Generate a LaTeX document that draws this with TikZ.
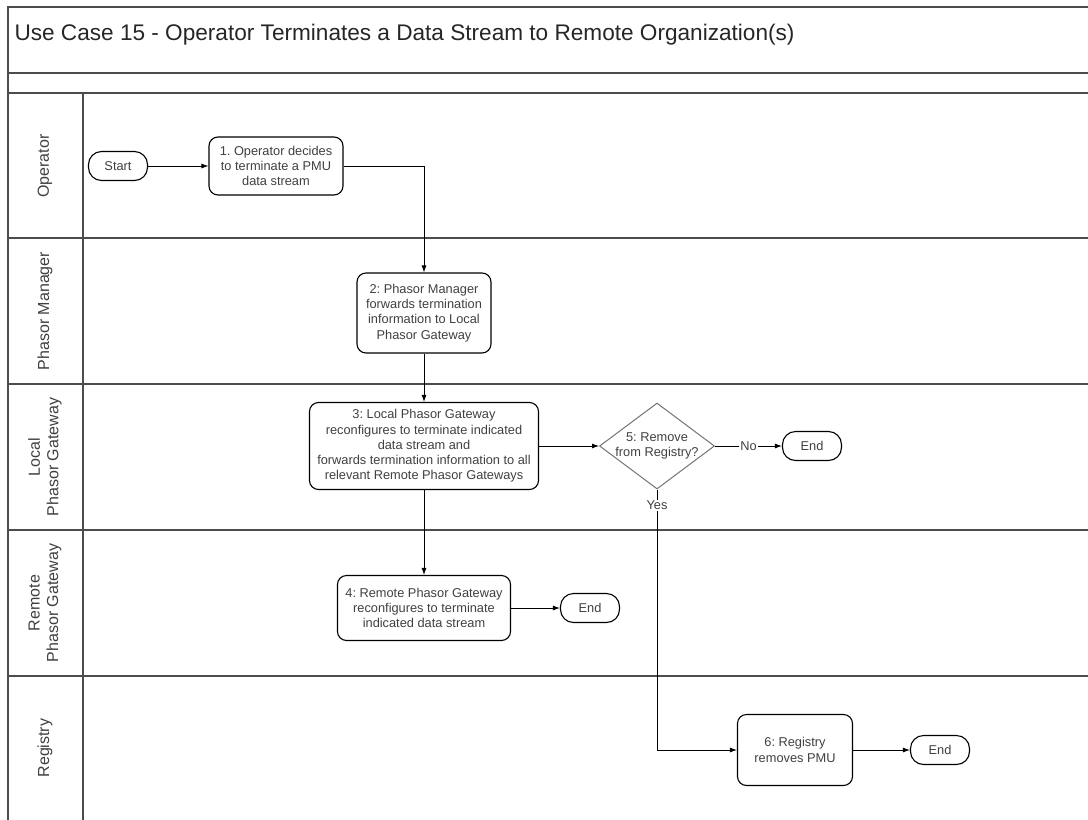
\documentclass[tikz,border=0pt]{standalone}
\usepackage{fontspec}
\setmainfont{Liberation Sans}
\usetikzlibrary{shapes.geometric,arrows.meta}
\frenchspacing

\begin{document}
\begin{tikzpicture}[
    x			= 1pt,
    y			= -1pt,
    lane/.style		= {line width = 1.4pt, black!70},
    lanename/.style	= {rotate = 90, align = center, text = black!75, font = \fontsize{16}{18.5}\selectfont},
    stepbox/.style	= {draw, line width = 1.1pt, rounded corners = 9pt, align = center, inner sep = 1pt, text = black!75, font = \fontsize{12.8}{15.3}\selectfont},
    term/.style		= {draw, line width = 1.1pt, rounded corners = 13pt, minimum width = 59pt, minimum height = 29pt, text = black!75, font = \fontsize{12.8}{15}\selectfont},
    decide/.style	= {draw = black!55, line width = 1pt, diamond, aspect = 1.34, inner sep = -3pt, minimum width = 115pt, minimum height = 86pt, align = center, text = black!75, font = \fontsize{12.8}{15.3}\selectfont},
    flow/.style		= {->, line width = 0.8pt},
    >={Latex[length = 7pt, width = 5pt]}
  ]
\useasboundingbox (0,0) rectangle (1088,820);
% frame and lanes
\draw[lane] (8,820) -- (8,7) -- (1088,7);
\foreach \y in {73,93,238,384,530,676}
  \draw[lane] (8,\y) -- (1088,\y);
\draw[lane] (83,93) -- (83,820);
% title
\node[anchor = west, text = black!85, font = \fontsize{22.6}{26}\selectfont] (title) at (11,35) {Use Case 15 - Operator Terminates a Data Stream to Remote Organization(s)};
% lane names
\node[lanename] (opname) at (45,166) {Operator};
\node[lanename] (pmname) at (45,311) {Phasor Manager};
\node[lanename] (lpgname) at (45,457) {Local\\Phasor Gateway};
\node[lanename] (rpgname) at (45,603) {Remote\\Phasor Gateway};
\node[lanename] (regname) at (45,748) {Registry};
% steps
\node[term] (start) at (118,166) {Start};
\node[stepbox, minimum width = 134pt, minimum height = 58pt] (op) at (276,166) {1. Operator decides\\to terminate a PMU\\data stream};
\node[stepbox, minimum width = 134pt, minimum height = 80pt] (pm) at (424,313) {2: Phasor Manager\\forwards termination\\information to Local\\Phasor Gateway};
\node[stepbox, minimum width = 229pt, minimum height = 87pt] (lpg) at (424,446) {3: Local Phasor Gateway\\reconfigures to terminate indicated\\data stream and\\forwards termination information to all\\relevant Remote Phasor Gateways};
\node[decide] (remove) at (657,446) {5: Remove\\from Registry?};
\node[term] (endlpg) at (812,446) {End};
\node[stepbox, minimum width = 173pt, minimum height = 65pt] (rpg) at (424,608) {4: Remote Phasor Gateway\\reconfigures to terminate\\indicated data stream};
\node[term] (endrpg) at (590,608) {End};
\node[stepbox, minimum width = 115pt, minimum height = 71pt] (reg) at (795,750) {6: Registry\\removes PMU};
\node[term] (endreg) at (940,750) {End};
% connectors
\draw[flow] (start) -- (op);
\draw[flow] (op.east) -| (pm.north);
\draw[flow] (pm) -- (lpg);
\draw[flow] (lpg) -- (remove);
\draw[flow] (remove) -- node[fill = white, inner sep = 1pt, text = black!75, font = \fontsize{12.8}{15}\selectfont] {No} (endlpg);
\draw[flow] (lpg) -- (rpg);
\draw[flow] (rpg) -- (endrpg);
\draw[flow] (remove.south) |- node[pos = 0.03, fill = white, inner sep = 1pt, text = black!75, font = \fontsize{12.8}{15}\selectfont] {Yes} (reg.west);
\draw[flow] (reg) -- (endreg);
%
\end{tikzpicture}
\end{document}
